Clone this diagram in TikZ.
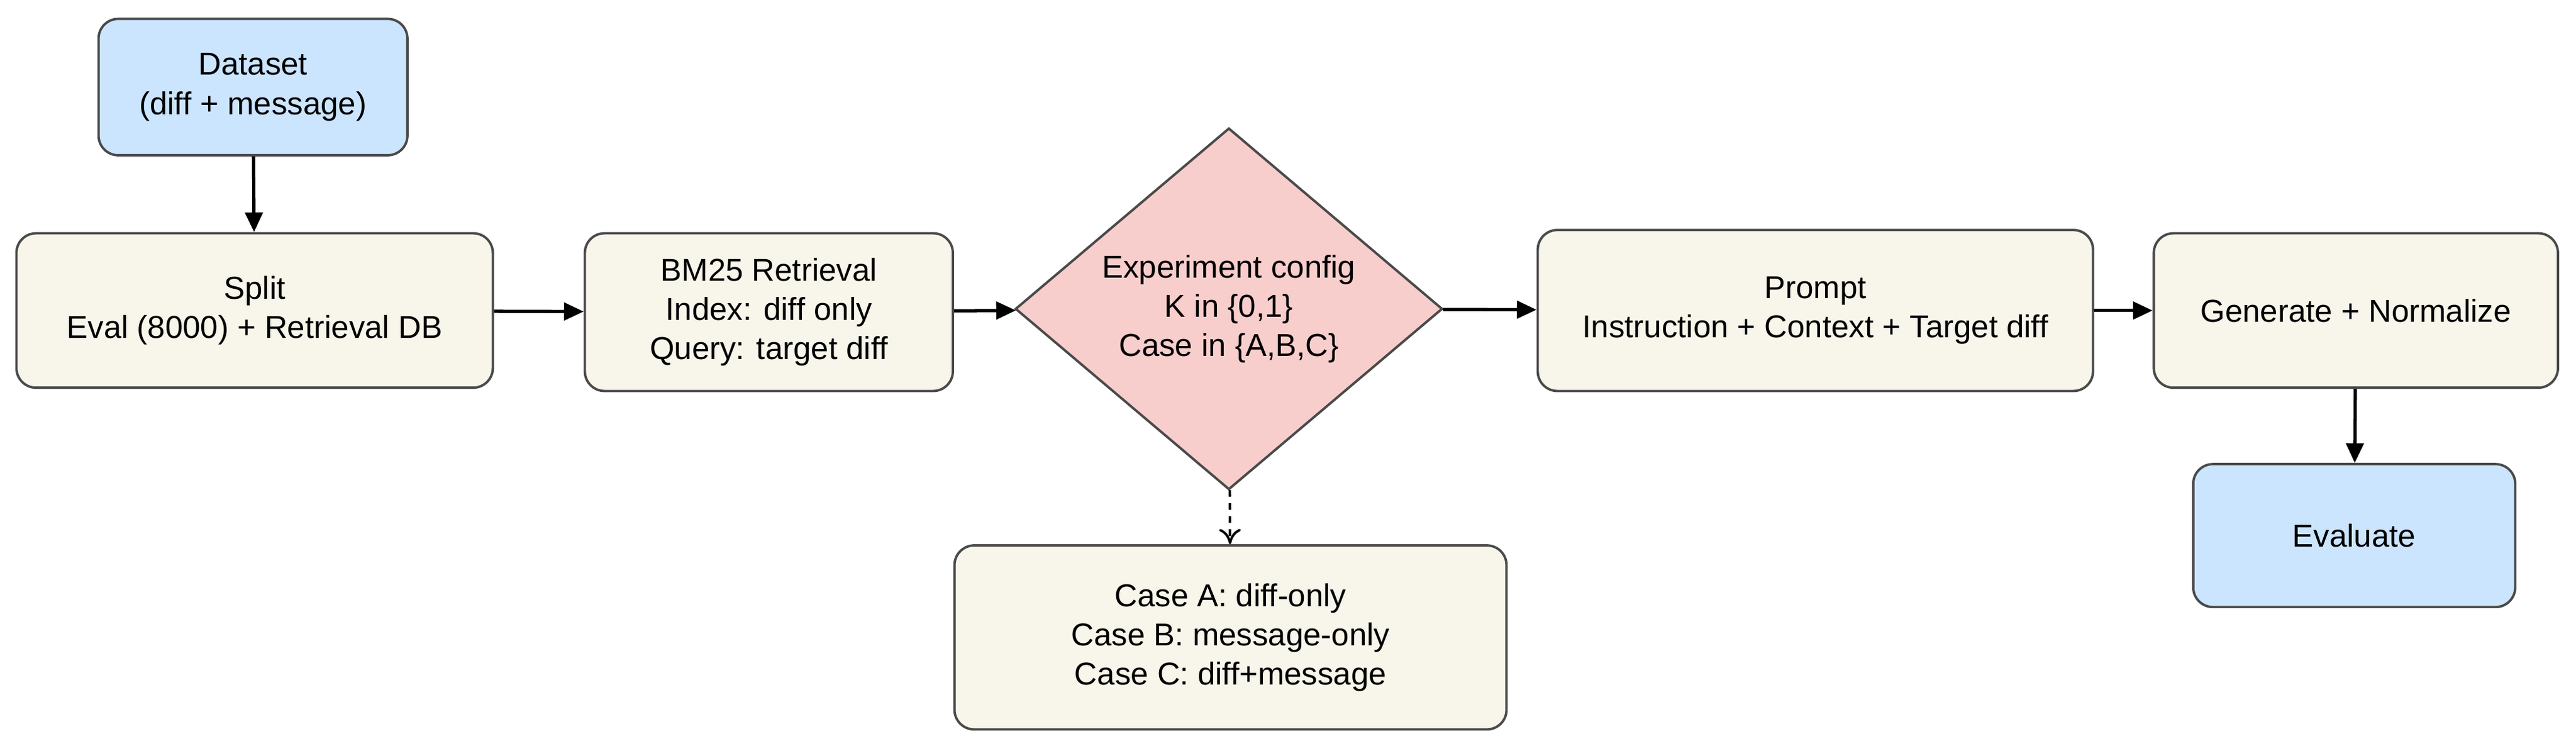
\documentclass[tikz,border=0pt]{standalone}
\usepackage{fontspec}
\setmainfont{Liberation Sans}
\usetikzlibrary{shapes.geometric,arrows.meta}
\definecolor{beige}{HTML}{F8F5EA}
\definecolor{lblue}{HTML}{CCE5FF}
\definecolor{lpink}{HTML}{F8CECC}
\definecolor{edge}{HTML}{4A4A4A}
\begin{document}
\begin{tikzpicture}[x=0.02645cm,y=-0.02645cm,
  box/.style={draw=edge,line width=1.1pt,rounded corners=9pt,align=center,inner sep=2pt,
    font=\fontsize{14.5}{18}\selectfont},
  arr/.style={line width=1.5pt,-{Triangle[length=9pt,width=8pt]}},
  darr/.style={line width=1.1pt,dashed,-{To[length=7pt,width=10pt]}}]
\useasboundingbox (0,0) rectangle (1568,457);
\node[box,fill=lblue,minimum width=188*0.02645cm,minimum height=83*0.02645cm] (ds) at (154,53) {Dataset\\(diff + message)};
\node[box,fill=beige,minimum width=290*0.02645cm,minimum height=94*0.02645cm] (split) at (155,189) {Split\\Eval (8000) + Retrieval DB};
\node[box,fill=beige,minimum width=224*0.02645cm,minimum height=96*0.02645cm] (bm) at (468,190) {BM25 Retrieval\\Index: diff only\\Query: target diff};
\node[diamond,draw=edge,line width=1.1pt,fill=lpink,inner sep=0pt,minimum width=260*0.02645cm,minimum height=187*0.02645cm,align=center,font=\fontsize{14.5}{18}\selectfont] (cfg) at (748,188) {Experiment config\\K in \{0,1\}\\Case in \{A,B,C\}};
\node[box,fill=beige,minimum width=338*0.02645cm,minimum height=98*0.02645cm] (pr) at (1105,189) {Prompt\\Instruction + Context + Target diff};
\node[box,fill=beige,minimum width=246*0.02645cm,minimum height=94*0.02645cm] (gen) at (1434,189) {Generate + Normalize};
\node[box,fill=lblue,minimum width=196*0.02645cm,minimum height=87*0.02645cm] (ev) at (1433,326) {Evaluate};
\node[box,fill=beige,minimum width=336*0.02645cm,minimum height=112*0.02645cm] (cs) at (749,388) {Case A: diff-only\\Case B: message-only\\Case C: diff+message};
\draw[arr] (ds) -- (split);
\draw[arr] (split) -- (bm);
\draw[arr] (bm) -- (cfg);
\draw[arr] (cfg) -- (pr);
\draw[arr] (pr) -- (gen);
\draw[arr] (gen) -- (ev);
\draw[darr] (cfg) -- (cs);
\end{tikzpicture}
\end{document}
